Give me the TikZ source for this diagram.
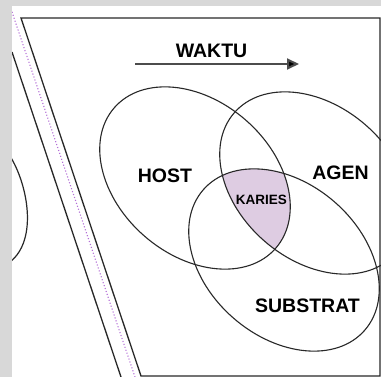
\documentclass[tikz,border=0pt]{standalone}
\usepackage{fontspec}
\setmainfont{Liberation Sans}
\usetikzlibrary{arrows.meta}
\definecolor{bggray}{RGB}{216,216,216}
\definecolor{edge}{RGB}{40,40,40}
\definecolor{kfill}{RGB}{222,204,226}
\definecolor{dotc}{RGB}{180,110,215}
\tikzset{
  venn/.style={draw=edge, line width=1.1pt},
  frame/.style={draw=edge, line width=1.3pt},
  lbl/.style={anchor=base, inner sep=0pt, font=\fontsize{19.5}{20}\selectfont\bfseries},
  smalllbl/.style={anchor=base, inner sep=0pt, font=\fontsize{13.5}{14}\selectfont\bfseries},
  timearrow/.style={draw=black!70, line width=2pt, -{Triangle[length=12pt,width=11pt,fill=black]}},
}
\begin{document}
\begin{tikzpicture}[x=1pt,y=-1pt]
\useasboundingbox (0,0) rectangle (381,377);
\fill[bggray] (0,0) rectangle (381,377);
\fill[white] (12,6) rectangle (381,377);
\begin{scope}
  \clip (12,6) rectangle (381,377);
  % page frame (parallelogram)
  \draw[frame] (141,376) -- (21,18) -- (380,18) -- (380,376) -- cycle;
  % slanted lines at left
  \draw[dotc, dotted, line width=1.1pt] (10,6) -- (135,377);
  \draw[edge, line width=1.3pt] (12,52) -- (121,377);
  \draw[edge, line width=1.2pt] (10,156) .. controls (28,185) and (38,240) .. (10,262);
  % karies region
  \begin{scope}
    \clip[rotate around={-41:(195,178)}] (195,178) ellipse [x radius=107pt, y radius=77pt];
    \clip[rotate around={-41:(315,183)}] (315,183) ellipse [x radius=107pt, y radius=77pt];
    \fill[kfill, rotate around={-41:(284,260)}] (284,260) ellipse [x radius=107pt, y radius=77pt];
  \end{scope}
  % ellipses
  \draw[venn, rotate around={-41:(195,178)}] (195,178) ellipse [x radius=107pt, y radius=77pt];
  \draw[venn, rotate around={-41:(315,183)}] (315,183) ellipse [x radius=107pt, y radius=77pt];
  \draw[venn, rotate around={-41:(284,260)}] (284,260) ellipse [x radius=107pt, y radius=77pt];
\end{scope}
% time arrow
\coordinate (tstart) at (135,64);
\coordinate (tend) at (299,64);
\draw[timearrow] (tstart) -- (tend);
% labels
\node[lbl] (waktu) at (211.5,58) {WAKTU};
\node[lbl] (host) at (165,183) {HOST};
\node[lbl] (agen) at (340.5,180) {AGEN};
\node[lbl] (substrat) at (307.5,313) {SUBSTRAT};
\node[smalllbl] (karies) at (261.5,205) {KARIES};
\end{tikzpicture}
\end{document}
